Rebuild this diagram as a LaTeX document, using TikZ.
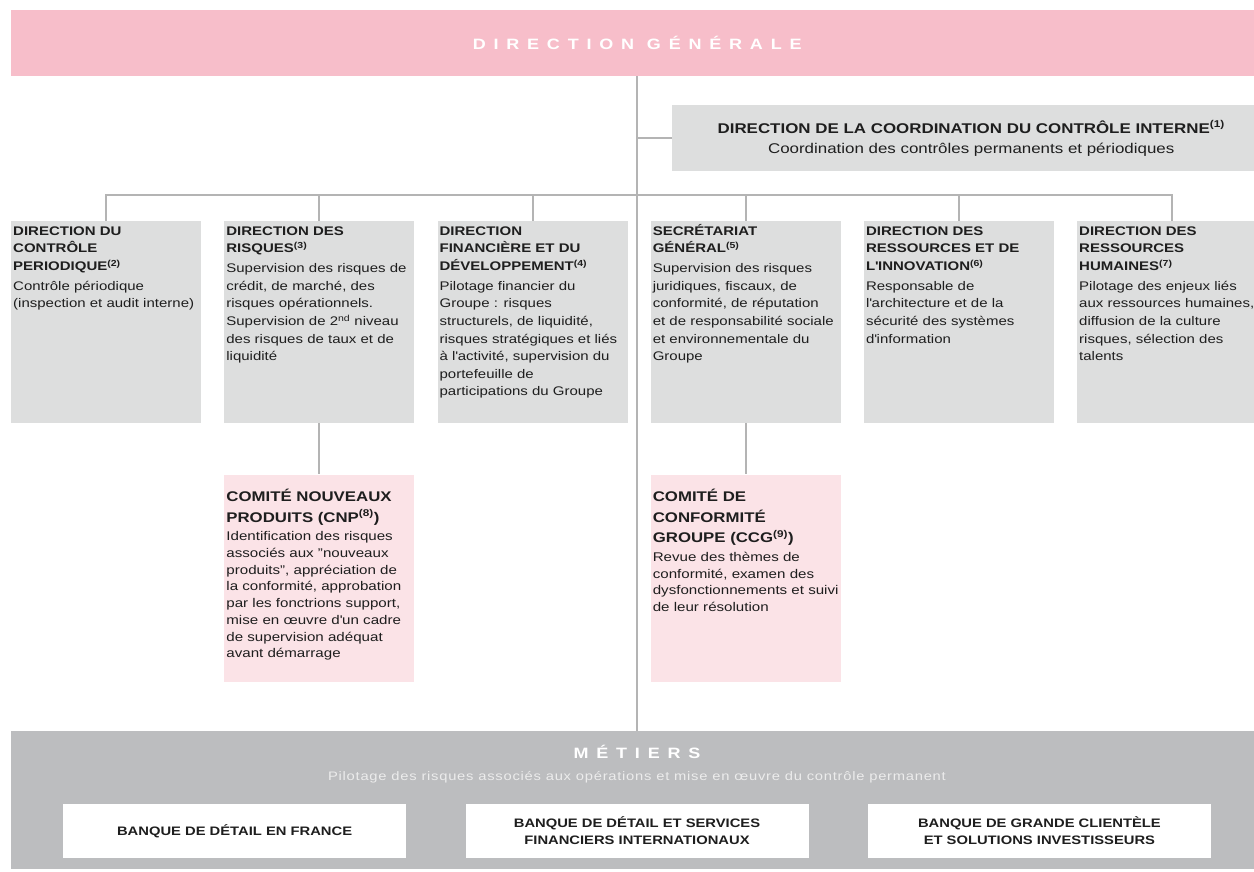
\documentclass[tikz,border=0pt]{standalone}
\usepackage{fontspec}
\setmainfont{Liberation Sans}[FakeStretch=1.2]
\newfontfamily\trackfont{Liberation Sans}[FakeStretch=1.2,LetterSpace=52]
\newfontfamily\subfont{Liberation Sans}[FakeStretch=1.2,LetterSpace=6]
\usetikzlibrary{positioning, calc}
\definecolor{SGPink}{RGB}{247,190,202}
\definecolor{SGPale}{RGB}{251,227,231}
\definecolor{SGGrey}{RGB}{221,222,222}
\definecolor{SGMid}{RGB}{188,189,191}
\definecolor{SGLine}{RGB}{180,180,180}
\definecolor{SGSub}{RGB}{236,236,236}
\definecolor{SGText}{RGB}{30,30,30}

% straight apostrophe
\newcommand{\ap}{\textquotesingle}
% text of a direction box: title, then body
\newcommand{\dirtext}[2]{\makebox[186pt][l]{\parbox[t][202pt][t]{250pt}{%
  \fontsize{12.5}{17.6}\selectfont\rule{0pt}{14pt}\textbf{#1}\par\vspace{2.4pt}#2}}}
% text of a committee box
\newcommand{\comtext}[2]{\makebox[186pt][l]{\parbox[t][207pt][t]{250pt}{%
  {\fontsize{14}{20.5}\selectfont\rule{0pt}{27pt}\textbf{#1}\par}\vspace{2pt}%
  {\fontsize{12.6}{16.7}\selectfont #2\par}}}}

\begin{document}
\begin{tikzpicture}[x=1pt, y=-1pt,
    link/.style={draw=SGLine, line width=2pt},
    dept/.style={fill=SGGrey, anchor=north west, inner xsep=2pt, inner ysep=0pt, text=SGText},
    comite/.style={fill=SGPale, anchor=north west, inner xsep=2pt, inner ysep=0pt, text=SGText},
    unit/.style={fill=white, minimum width=343pt, minimum height=54pt, align=center, inner sep=0pt,
      text=SGText, font=\fontsize{12.3}{17}\selectfont\bfseries},
    node distance=22.8pt]
  \useasboundingbox (0,0) rectangle (1254,872);

  % Direction generale
  \node[fill=SGPink, anchor=north west, minimum width=1252pt, minimum height=66pt, inner sep=0pt,
    text=white, font=\trackfont\fontsize{15}{15}\selectfont\bfseries] (dg) at (11,10) {DIRECTION GÉNÉRALE};

  % Coordination
  \node[fill=SGGrey, anchor=north west, minimum width=598pt, minimum height=66pt, align=center,
    text=SGText, font=\fontsize{14.1}{20}\selectfont] (coord) at (672,105)
    {\textbf{DIRECTION DE LA COORDINATION DU CONTRÔLE INTERNE\textsuperscript{(1)}}\\Coordination des contrôles permanents et périodiques};

  % Directions
  \node[dept] (cp) at (11,221) {\dirtext{DIRECTION DU\\CONTRÔLE\\PERIODIQUE\textsuperscript{(2)}}%
    {Contrôle périodique\\(inspection et audit interne)}};
  \node[dept, right=of cp] (risk) {\dirtext{DIRECTION DES\\RISQUES\textsuperscript{(3)}}%
    {Supervision des risques de\\crédit, de marché, des\\risques opérationnels.\\Supervision de 2\textsuperscript{nd} niveau\\des risques de taux et de\\liquidité}};
  \node[dept, right=of risk] (fin) {\dirtext{DIRECTION\\FINANCIÈRE ET DU\\DÉVELOPPEMENT\textsuperscript{(4)}}%
    {Pilotage financier du\\Groupe : risques\\structurels, de liquidité,\\risques stratégiques et liés\\à l\ap activité, supervision du\\portefeuille de\\participations du Groupe}};
  \node[dept, right=of fin] (sec) {\dirtext{SECRÉTARIAT\\GÉNÉRAL\textsuperscript{(5)}}%
    {Supervision des risques\\juridiques, fiscaux, de\\conformité, de réputation\\et de responsabilité sociale\\et environnementale du\\Groupe}};
  \node[dept, right=of sec] (innov) {\dirtext{DIRECTION DES\\RESSOURCES ET DE\\L\ap INNOVATION\textsuperscript{(6)}}%
    {Responsable de\\l\ap architecture et de la\\sécurité des systèmes\\d\ap information}};
  \node[dept, right=of innov] (hr) {\dirtext{DIRECTION DES\\RESSOURCES\\HUMAINES\textsuperscript{(7)}}%
    {Pilotage des enjeux liés\\aux ressources humaines,\\diffusion de la culture\\risques, sélection des\\talents}};

  % Committees
  \node[comite, below=51pt of risk] (cnp) {\comtext{COMITÉ NOUVEAUX\\PRODUITS (CNP\textsuperscript{(8)})}%
    {Identification des risques\\associés aux "nouveaux\\produits", appréciation de\\la conformité, approbation\\par les fonctrions support,\\mise en œuvre d\ap un cadre\\de supervision adéquat\\avant démarrage}};
  \node[comite, below=51pt of sec] (ccg) {\comtext{COMITÉ DE\\CONFORMITÉ\\GROUPE (CCG\textsuperscript{(9)})}%
    {Revue des thèmes de\\conformité, examen des\\dysfonctionnements et suivi\\de leur résolution}};

  % Metiers
  \node[fill=SGMid, anchor=north west, minimum width=1252pt, minimum height=138pt, inner sep=0pt] (met) at (11,731) {};
  \node[anchor=base, text=white, font=\trackfont\fontsize{15}{15}\selectfont\bfseries] (mettitle) at (637,758) {MÉTIERS};
  \node[anchor=base, text=SGSub, font=\subfont\fontsize{12.3}{14}\selectfont] (metsub) at (637,780)
    {Pilotage des risques associés aux opérations et mise en œuvre du contrôle permanent};
  \node[unit] (bdi) at (637,831) {BANQUE DE DÉTAIL ET SERVICES\\FINANCIERS INTERNATIONAUX};
  \node[unit, left=59pt of bdi] (bdf) {BANQUE DE DÉTAIL EN FRANCE};
  \node[unit, right=59pt of bdi] (bgc) {BANQUE DE GRANDE CLIENTÈLE\\ET SOLUTIONS INVESTISSEURS};

  % Links
  \coordinate (bus) at (0,195);
  \draw[link] (dg.south) -- (dg.south |- met.north);
  \draw[link] (coord.west) -- (coord.west -| dg.south);
  \draw[link] (cp.north) -- (cp.north |- bus) -- (hr.north |- bus) -- (hr.north);
  \foreach \n in {risk, fin, sec, innov}
    \draw[link] (\n.north) -- (\n.north |- bus);
  \draw[link] (risk.south) -- (cnp.north);
  \draw[link] (sec.south) -- (ccg.north);
\end{tikzpicture}
\end{document}
